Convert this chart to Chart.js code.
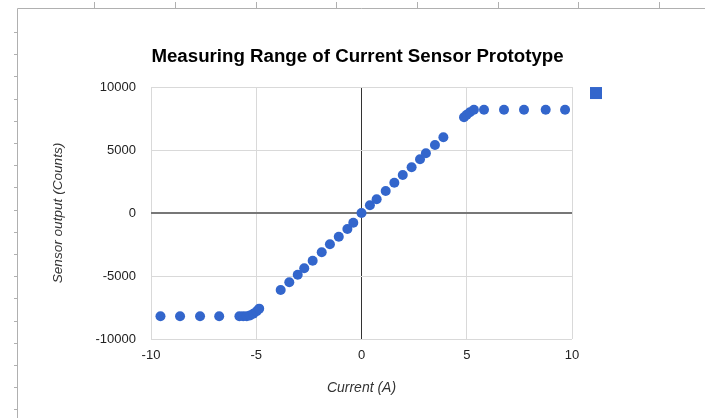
<!DOCTYPE html>
<html>
<head>
<meta charset="utf-8">
<script src="https://cdn.jsdelivr.net/npm/chart.js@4/dist/chart.umd.min.js"></script>
<style>
html,body{margin:0;padding:0;background:#fff;}
#wrap{position:relative;width:705px;height:418px;}
</style>
</head>
<body>
<div id="wrap"><canvas id="c" width="705" height="418"></canvas></div>
<script>
const chartTitle = "Measuring Range of Current Sensor Prototype";
const xTitle = "Current (A)";
const yTitle = "Sensor output (Counts)";
const xTickValues = [-10, -5, 0, 5, 10];
const yTickValues = [-10000, -5000, 0, 5000, 10000];
const currents = [-9.55, -8.62, -7.67, -6.76, -5.8, -5.62, -5.45, -5.3, -5.14, -4.98, -4.86,
  -3.84, -3.43, -3.03, -2.72, -2.32, -1.89, -1.50, -1.08, -0.67, -0.39, 0, 0.40, 0.72,
  1.15, 1.56, 1.96, 2.38, 2.78, 3.06, 3.49, 3.89, 4.87, 5.0, 5.15, 5.34, 5.82, 6.77, 7.72, 8.75, 9.67];
const counts = [-8191, -8191, -8191, -8191, -8191, -8191, -8191, -8130, -7990, -7800, -7590,
  -6111, -5500, -4897, -4389, -3786, -3119, -2484, -1881, -1270, -770, 0, 620, 1087,
  1746, 2405, 3016, 3627, 4262, 4738, 5397, 6008, 7595, 7802, 7992, 8191, 8191, 8191, 8191, 8191, 8191];

const FONT = "'Liberation Sans', Arial, sans-serif";
const points = currents.map((x, i) => ({x: x, y: counts[i]}));

const frame = {
  id: 'frame',
  beforeDraw(chart) {
    const ctx = chart.ctx;
    ctx.save();
    ctx.strokeStyle = '#b0b0b0';
    ctx.lineWidth = 1;
    ctx.beginPath();
    ctx.moveTo(17.5, 8.5); ctx.lineTo(705, 8.5);
    ctx.moveTo(17.5, 8.5); ctx.lineTo(17.5, 418);
    const tops = [94, 175, 256, 336, 417, 498, 578, 659];
    tops.forEach(t => { ctx.moveTo(t + 0.5, 2); ctx.lineTo(t + 0.5, 8); });
    for (let y = 32; y < 418; y += 22.2) {
      const yy = Math.round(y) + 0.5;
      ctx.moveTo(14, yy); ctx.lineTo(17, yy);
    }
    ctx.stroke();
    ctx.restore();
  },
  afterDraw(chart) {
    const ctx = chart.ctx;
    const a = chart.chartArea;
    ctx.save();
    ctx.fillStyle = '#3366cc';
    ctx.fillRect(a.right + 18, a.top, 12, 12);
    ctx.restore();
  }
};

new Chart(document.getElementById('c'), {
  type: 'scatter',
  data: {
    datasets: [{
      label: '',
      data: points,
      backgroundColor: '#3366cc',
      borderWidth: 0,
      pointRadius: 5,
      pointHoverRadius: 5
    }]
  },
  options: {
    responsive: false,
    animation: false,
    layout: {padding: {left: 10, right: 0, top: 0, bottom: 0}},
    plugins: {
      legend: {display: false},
      tooltip: {enabled: false},
      title: {
        display: true,
        text: chartTitle,
        color: '#000',
        font: {family: FONT, size: 18.7, weight: 'bold'},
        padding: {top: 45.5, bottom: 19.1}
      }
    },
    scales: {
      x: {
        type: 'linear',
        min: -10, max: 10,
        afterBuildTicks(s) { s.ticks = xTickValues.map(v => ({value: v})); },
        afterFit(s) { s.height = 79; },
        ticks: {color: '#222', font: {family: FONT, size: 13}, padding: 9, maxRotation: 0,
          callback: v => String(v)},
        grid: {
          drawTicks: false,
          color: c => c.tick && c.tick.value === 0 ? '#333' : '#d9d9d9',
          lineWidth: 1
        },
        border: {display: false},
        title: {display: true, text: xTitle, color: '#333',
          font: {family: FONT, size: 14, style: 'italic'}, padding: {top: 0, bottom: 21}}
      },
      y: {
        type: 'linear',
        min: -10000, max: 10000,
        afterBuildTicks(s) { s.ticks = yTickValues.map(v => ({value: v})); },
        afterFit(s) { s.width = 141; },
        ticks: {color: '#222', font: {family: FONT, size: 13}, padding: 15,
          callback: v => String(v)},
        grid: {
          drawTicks: false,
          color: c => c.tick && c.tick.value === 0 ? '#777' : '#d9d9d9',
          lineWidth: c => c.tick && c.tick.value === 0 ? 2 : 1
        },
        border: {display: false},
        title: {display: true, text: yTitle, color: '#333',
          font: {family: FONT, size: 13.6, style: 'italic'}, padding: {top: 40, bottom: 0}}
      },
      yRight: {
        type: 'linear',
        position: 'right',
        display: true,
        min: -10000, max: 10000,
        afterFit(s) { s.width = 133; },
        ticks: {display: false},
        grid: {display: false, drawOnChartArea: false},
        border: {display: false}
      }
    }
  },
  plugins: [frame]
});
</script>
</body>
</html>
